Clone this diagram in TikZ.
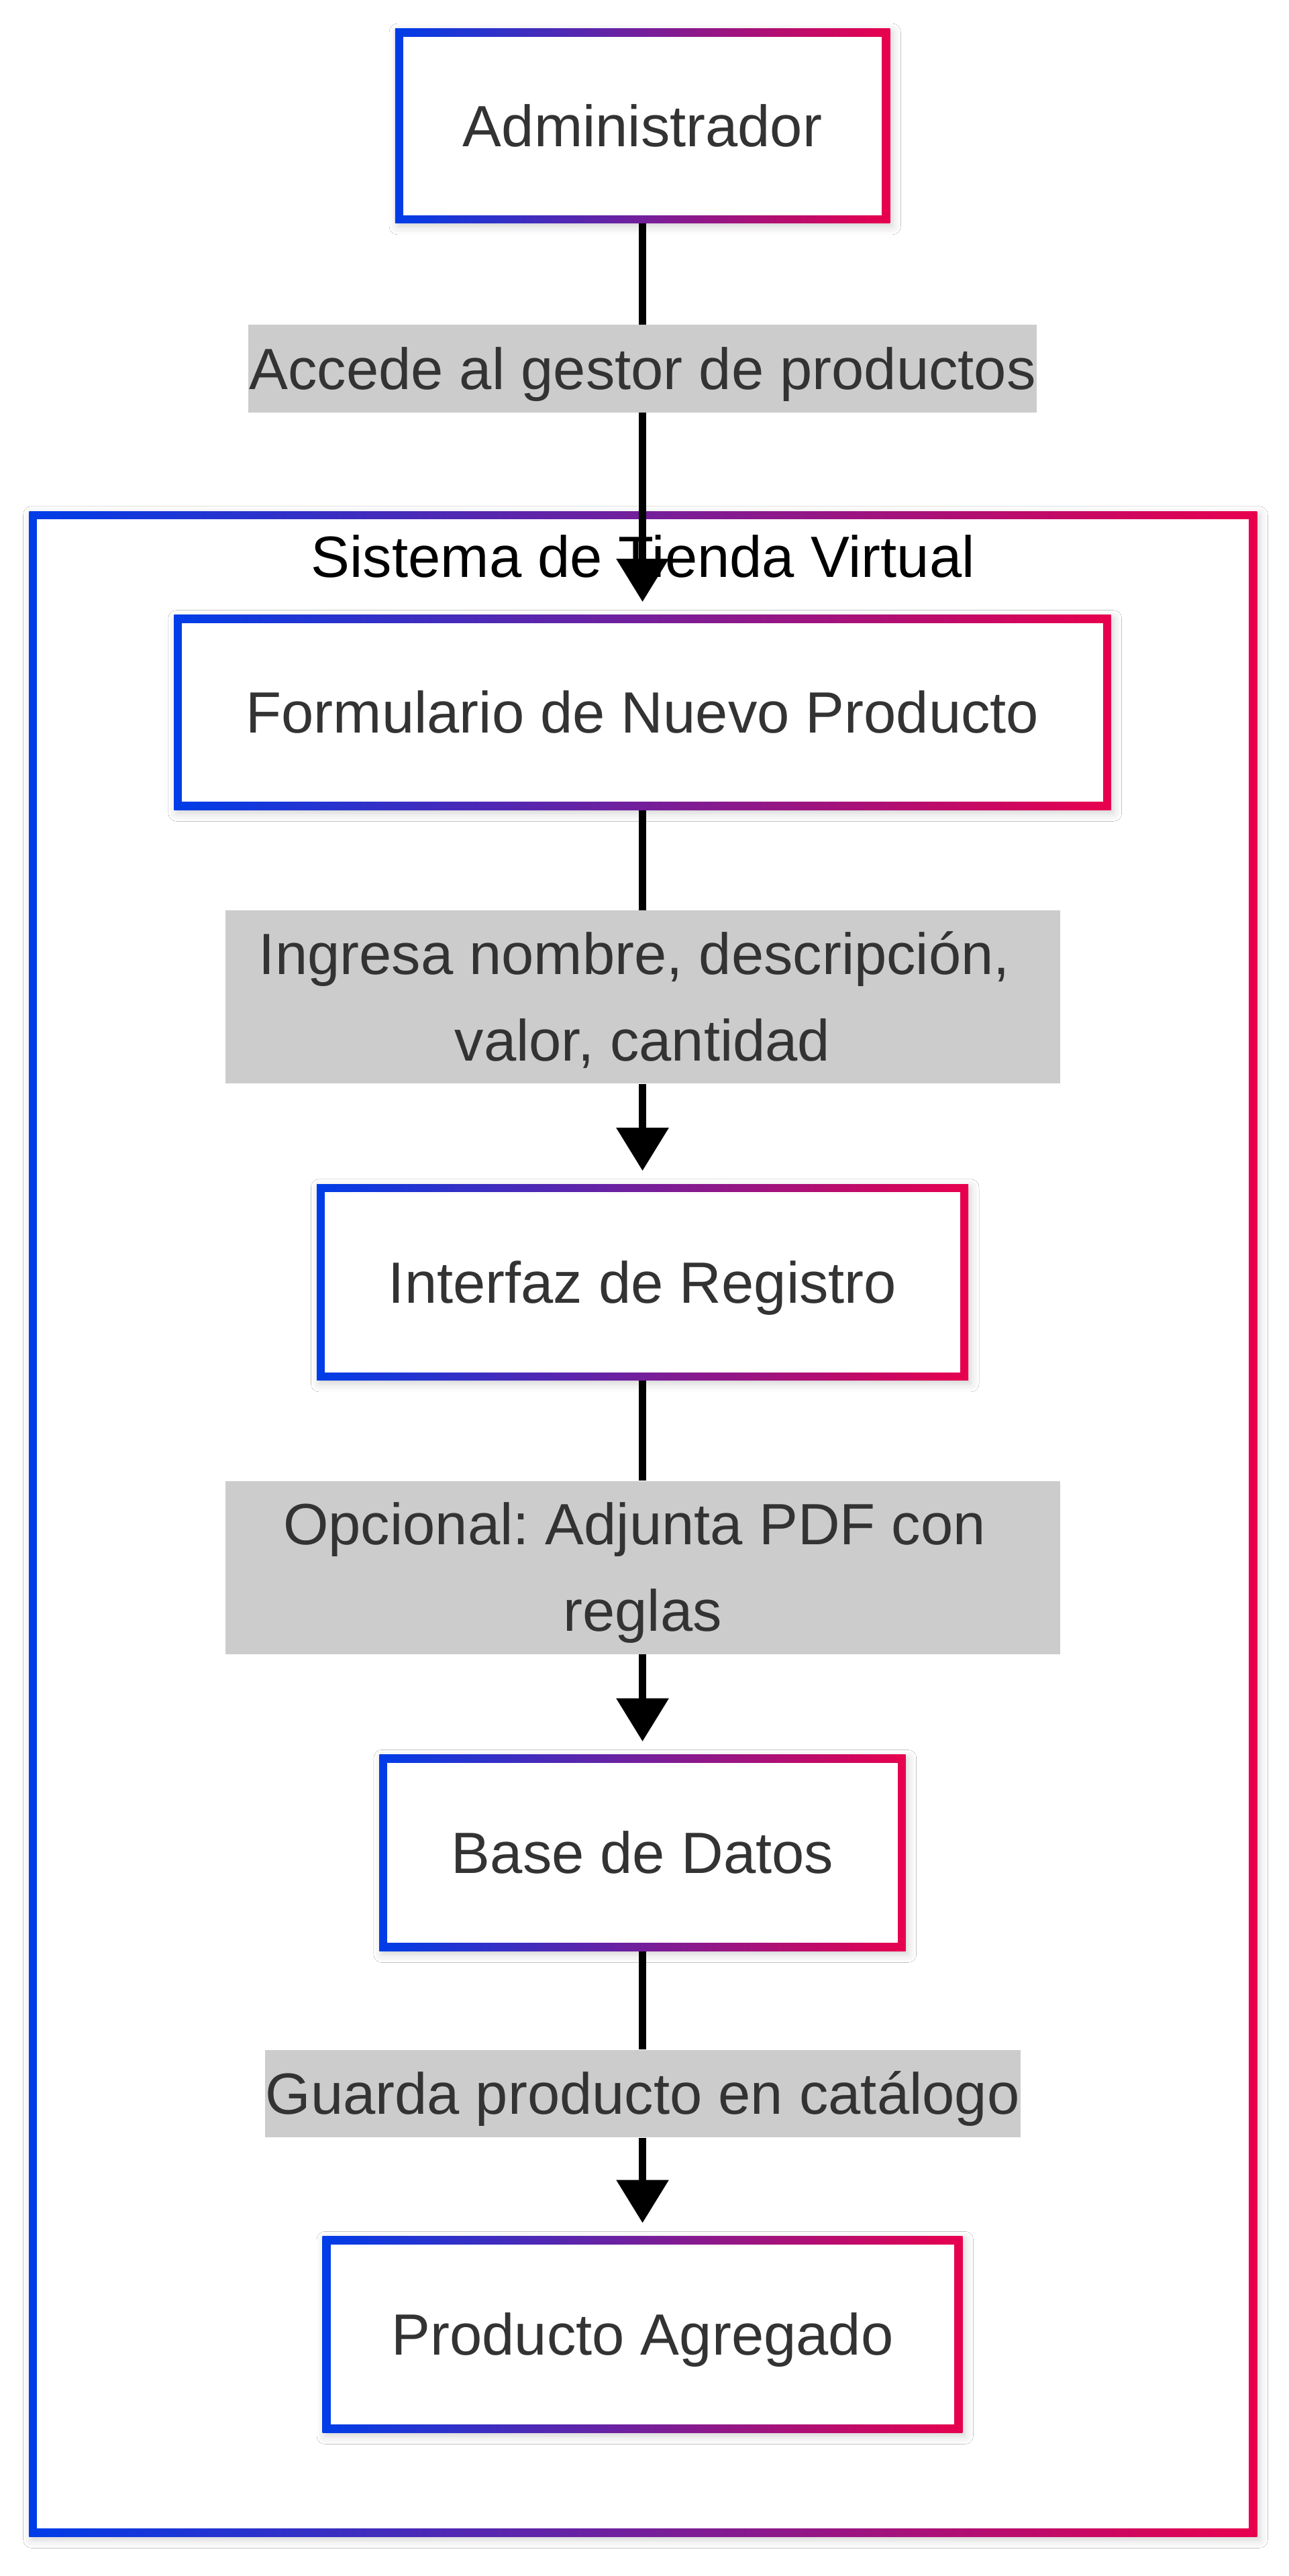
\documentclass[tikz,border=0pt]{standalone}
\usepackage{fontspec}
\setmainfont{Liberation Sans}
\usetikzlibrary{arrows.meta,shadows.blur}
\frenchspacing
\definecolor{gblue}{RGB}{0,61,232}
\definecolor{gred}{RGB}{232,0,78}
\definecolor{lblgray}{RGB}{204,204,204}
\definecolor{txt}{RGB}{51,51,51}
\newcommand{\gs}{\rule[-10pt]{0pt}{45pt}}
\newcommand{\trsp}{\rule{9.8pt}{0pt}}
\tikzset{
  gradborder/.style={rectangle, inner sep=0pt, fill=white,
    blur shadow={shadow xshift=1.5pt, shadow yshift=-2pt, shadow blur radius=5pt, shadow opacity=18},
    path picture={
      \shade[left color=gblue,right color=gred] (path picture bounding box.south west) rectangle (path picture bounding box.north east);
      \fill[white] ([shift={(4.9pt,4.9pt)}]path picture bounding box.south west) rectangle ([shift={(-4.9pt,-4.9pt)}]path picture bounding box.north east);
    }},
  procbox/.style={gradborder, minimum height=119pt, text=txt, font=\fontsize{35.3}{52.5}\selectfont},
  lbl/.style={rectangle, fill=lblgray, inner sep=0pt, text=txt, align=center, font=\fontsize{35.3}{52.5}\selectfont},
  edgearrow/.style={line width=4.75pt, draw=black, -{Triangle[length=26pt,width=32pt,line width=0pt]}, shorten >=8pt},
  edgeplain/.style={line width=4.75pt, draw=black}
}
\begin{document}
\begin{tikzpicture}[x=1pt,y=1pt]
\fill[white] (0,0) rectangle (781.4,-1562);
\useasboundingbox (0,0) rectangle (781.4,-1562);

% cluster
\node[gradborder, minimum width=744.4pt, minimum height=1228pt] (sys) at (389.8,-924) {};
\node[anchor=base, inner sep=0pt, text=black, font=\fontsize{35.3}{52.5}\selectfont] (systitle) at (389.8,-350) {Sistema de Tienda Virtual};

% process boxes
\node[procbox, minimum width=300pt, minimum height=118pt] (admin) at (389.5,-76.3) {\gs Administrador};
\node[procbox, minimum width=568pt, minimum height=118pt] (form) at (389.5,-432) {\gs Formulario de Nuevo Producto};
\node[procbox, minimum width=395pt] (inter) at (389.5,-777.5) {\gs Interfaz de Registro};
\node[procbox, minimum width=319pt] (bd) at (389.5,-1123.5) {\gs Base de Datos};
\node[procbox, minimum width=388pt] (pa) at (389.5,-1415.5) {\gs Producto Agregado};

% edge labels
\node[lbl, minimum width=478pt, minimum height=53pt] (l1) at (389.5,-223.5) {\gs Accede al gestor de productos};
\node[lbl, minimum width=506pt, minimum height=105pt] (l2) at (389.5,-604.5) {\gs Ingresa nombre, descripción,\trsp\\\gs valor, cantidad};
\node[lbl, minimum width=506pt, minimum height=105pt] (l3) at (389.5,-950.5) {\gs Opcional: Adjunta PDF con\trsp\\\gs reglas};
\node[lbl, minimum width=458pt, minimum height=53pt] (l4) at (389.5,-1269.5) {\gs Guarda producto en catálogo};

% connectors
\draw[edgeplain] (admin) -- (l1);
\draw[edgearrow] (l1) -- (form);
\draw[edgeplain] (form) -- (l2);
\draw[edgearrow] (l2) -- (inter);
\draw[edgeplain] (inter) -- (l3);
\draw[edgearrow] (l3) -- (bd);
\draw[edgeplain] (bd) -- (l4);
\draw[edgearrow] (l4) -- (pa);
\end{tikzpicture}
\end{document}
